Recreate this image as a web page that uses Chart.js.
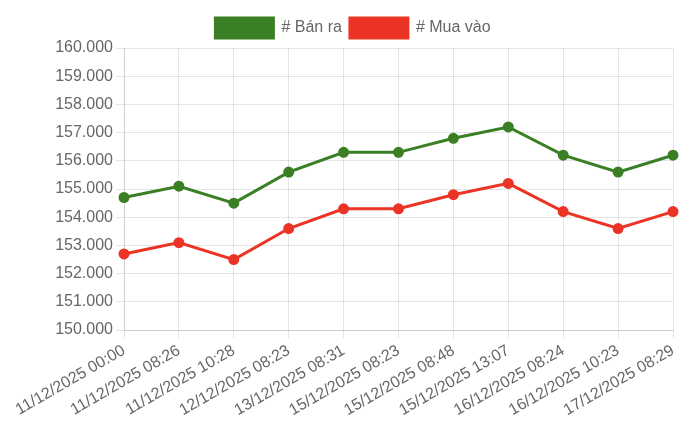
<!DOCTYPE html>
<html>
<head>
<meta charset="utf-8">
<script src="https://cdn.jsdelivr.net/npm/chart.js@4"></script>
<style>
  html, body { margin: 0; padding: 0; background: #fff; }
  #wrap { width: 700px; height: 437px; }
</style>
</head>
<body>
<div id="wrap"><canvas id="myChart"></canvas></div>
<script>
// du lieu gia
const nhanThoiGian = [
  "11/12/2025 00:00", "11/12/2025 08:26", "11/12/2025 10:28", "12/12/2025 08:23",
  "13/12/2025 08:31", "15/12/2025 08:23", "15/12/2025 08:48", "15/12/2025 13:07",
  "16/12/2025 08:24", "16/12/2025 10:23", "17/12/2025 08:29"
]
const giaBanRa = [154700, 155100, 154500, 155600, 156300, 156300, 156800, 157200, 156200, 155600, 156200]
const giaMuaVao = [152700, 153100, 152500, 153600, 154300, 154300, 154800, 155200, 154200, 153600, 154200]
const mocTrucY = { min: 150000, max: 160000, buoc: 1000 }

Chart.defaults.font.family = "'Liberation Sans', Arial, sans-serif"
Chart.defaults.font.size = 16
Chart.defaults.color = '#666'

let ctx = document.getElementById('myChart').getContext('2d')
let myChart = new Chart(ctx, {
  type: 'line',
  data: {
    labels: nhanThoiGian,
    datasets: [
      {
        label: '# Bán ra',
        data: giaBanRa,
        borderColor: '#3a7f23',
        backgroundColor: '#3a7f23',
        borderWidth: 3,
        pointRadius: 4,
        tension: 0
      },
      {
        label: '# Mua vào',
        data: giaMuaVao,
        borderColor: '#eb3425',
        backgroundColor: '#eb3425',
        borderWidth: 3,
        pointRadius: 4,
        tension: 0
      }
    ]
  },
  options: {
    responsive: true,
    maintainAspectRatio: false,
    animation: false,
    layout: { padding: { top: 10, left: 33, right: 27, bottom: 14 } },
    plugins: {
      legend: {
        labels: { boxWidth: 58, boxHeight: 20, padding: 8 }
      },
      tooltip: { enabled: false }
    },
    scales: {
      x: {
        ticks: { maxRotation: 30, minRotation: 30, autoSkip: false }
      },
      y: {
        min: mocTrucY.min,
        max: mocTrucY.max,
        afterFit: (scale) => { scale.width = 91 },
        ticks: {
          stepSize: mocTrucY.buoc,
          callback: (v) => v.toLocaleString('de-DE')
        }
      }
    }
  }
})
</script>
</body>
</html>
